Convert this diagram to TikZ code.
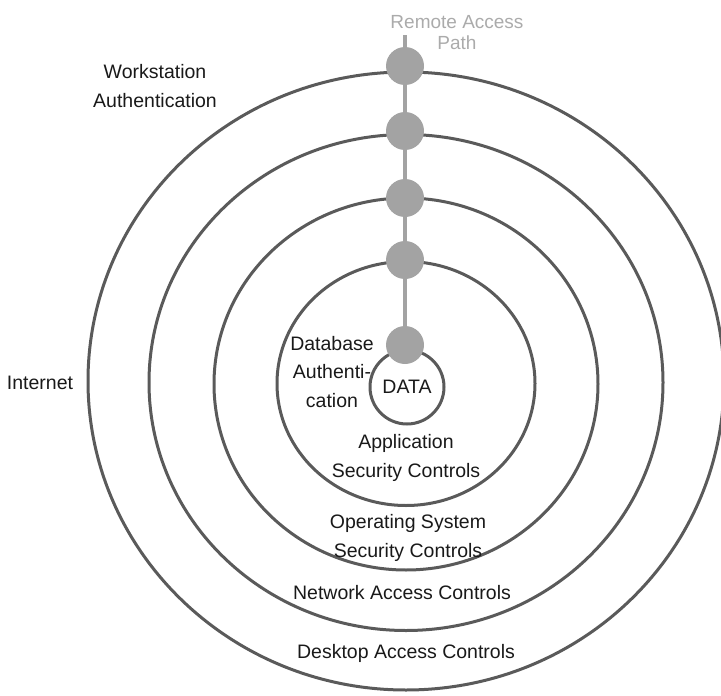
\documentclass[tikz,border=0pt]{standalone}
\usepackage{fontspec}
\setmainfont{Liberation Sans}
\usetikzlibrary{positioning}
\definecolor{ringgray}{HTML}{5A5A5A}
\definecolor{dotgray}{HTML}{A3A3A3}
\definecolor{pathgray}{HTML}{ABABAB}
\tikzset{
	ring/.style={line width=3pt, draw=ringgray}
}
\tikzset{
	accessdot/.style={circle, fill=dotgray, minimum size=38pt, inner sep=0pt}
}
\tikzset{
	labeltext/.style={font=\fontsize{19.5}{28.5}\selectfont, text=black!90, align=center, inner sep=0pt}
}
\tikzset{
	graytext/.style={font=\fontsize{19}{21}\selectfont, text=pathgray, align=center, inner sep=0pt}
}

\begin{document}
\begin{tikzpicture}[x=1pt, y=-1pt]
      \useasboundingbox (0,0) rectangle (721,696);
      % the four rings round the data
      \draw[ring] (406,381) ellipse [x radius=318, y radius=309];
      \draw[ring] (406,382.5) ellipse [x radius=257, y radius=248];
      \draw[ring] (406,384) ellipse [x radius=192, y radius=186];
      \draw[ring] (406,383.5) ellipse [x radius=129, y radius=122];
      % data in the middle
      \node[ring, circle, minimum size=74pt, inner sep=0pt, font=\fontsize{19.5}{24}\selectfont, text=black!90] (data) at (407,387) {DATA};
      % remote access path through every ring
      \coordinate (pathtop) at (405,35);
      \node[accessdot] (d1) at (405,66) {};
      \node[accessdot] (d2) at (405,131) {};
      \node[accessdot] (d3) at (405,198) {};
      \node[accessdot] (d4) at (405,260) {};
      \node[accessdot] (d5) at (405,345) {};
      \draw[line width=4pt, draw=dotgray] (pathtop) -- (d5);
      \node[graytext] (remote) at (457,33) {Remote Access\\Path};
      % ring labels
      \node[labeltext] (workstation) at (155,86) {Workstation\\Authentication};
      \node[labeltext] (internet) at (40,383) {Internet};
      \node[labeltext] (dbauth) at (332,372) {Database\\Authenti-\\cation};
      \node[labeltext] (app) at (406,458) {Application\\Security Controls};
      \node[labeltext] (os) at (408,538) {Operating System\\Security Controls};
      \node[labeltext] (net) at (402,593) {Network Access Controls};
      \node[labeltext] (desk) at (406,653) {Desktop Access Controls};
    \end{tikzpicture}
\end{document}
